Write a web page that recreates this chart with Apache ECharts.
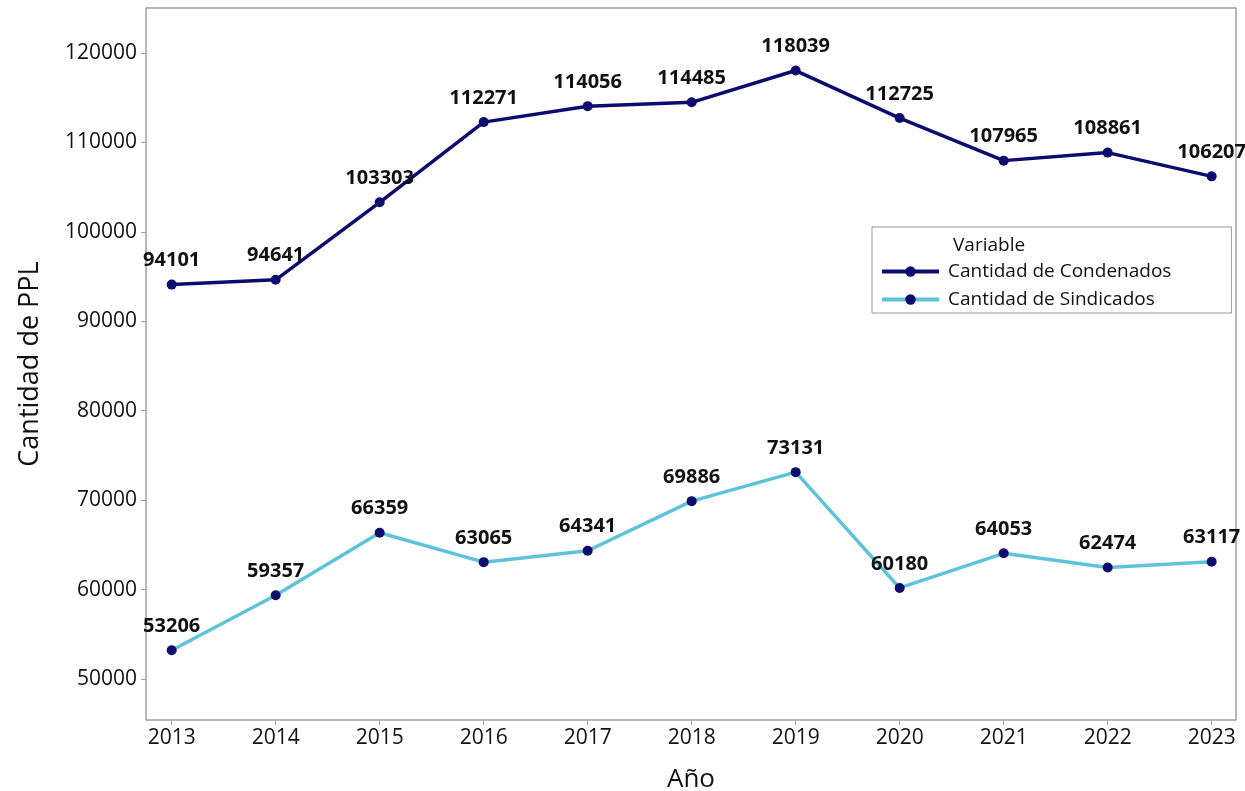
<!DOCTYPE html>
<html>
<head>
<meta charset="utf-8">
<script src="https://cdn.jsdelivr.net/npm/echarts@6/dist/echarts.min.js"></script>
<style>
  html, body { margin: 0; padding: 0; background: #fff; }
  #chart { width: 1245px; height: 791px; }
</style>
</head>
<body>
<div id="chart"></div>
<script>
const years = [2013, 2014, 2015, 2016, 2017, 2018, 2019, 2020, 2021, 2022, 2023]
const condenados = [94101, 94641, 103303, 112271, 114056, 114485, 118039, 112725, 107965, 108861, 106207]
const sindicados = [53206, 59357, 66359, 63065, 64341, 69886, 73131, 60180, 64053, 62474, 63117]
const yTicks = [50000, 60000, 70000, 80000, 90000, 100000, 110000, 120000]

const FONT = '"Open Sans", "Noto Sans", sans-serif'
const BOLD = '"Noto Sans", "Open Sans", sans-serif'
const NAVY = '#0c0c6e'
const CYAN = '#5ec3d9'

function pairs(vals) {
  return years.map((y, i) => [y, vals[i]])
}

const myChart = echarts.init(document.getElementById('chart'))

const labelStyle = {
  show: true,
  position: 'top',
  distance: 9,
  color: '#111',
  fontFamily: BOLD,
  fontWeight: 'bold',
  fontSize: 20,
  formatter: p => p.data[1]
}

const option = {
  backgroundColor: '#fff',
  animation: false,
  grid: {
    left: 146, right: 9, top: 8, bottom: 71,
    outerBoundsMode: 'none',
    containLabel: false,
    show: true,
    borderColor: '#a0a0a0',
    borderWidth: 1.5,
    backgroundColor: '#fff'
  },
  title: {
    text: 'Variable',
    left: 948, top: 231,
    textStyle: { fontFamily: FONT, fontSize: 19, fontWeight: 'normal', color: '#111' }
  },
  legend: {
    orient: 'vertical',
    left: 872, top: 227,
    padding: [35, 60, 4, 8],
    itemGap: 9,
    itemWidth: 57,
    itemHeight: 13,
    borderColor: '#999',
    borderWidth: 1,
    lineStyle: { width: 4 },
    textStyle: { fontFamily: FONT, fontSize: 19, color: '#111', padding: [0, 0, 0, 4] },
    data: ['Cantidad de Condenados', 'Cantidad de Sindicados']
  },
  xAxis: {
    type: 'value',
    min: 2012.753,
    max: 2023.234,
    name: 'Año',
    nameLocation: 'middle',
    nameGap: 47,
    nameTextStyle: { fontFamily: FONT, fontSize: 26, color: '#111' },
    axisLine: { show: false },
    axisTick: { show: true, inside: false, length: 5, customValues: years, lineStyle: { color: '#a0a0a0' } },
    axisLabel: {
      customValues: years,
      margin: 8,
      fontFamily: FONT, fontSize: 21, color: '#111',
      formatter: v => String(Math.round(v))
    },
    splitLine: { show: false }
  },
  yAxis: {
    type: 'value',
    min: 45415,
    max: 125032,
    name: 'Cantidad de PPL',
    nameLocation: 'middle',
    nameGap: 102,
    nameTextStyle: { fontFamily: FONT, fontSize: 27, color: '#111' },
    axisLine: { show: false },
    axisTick: { show: true, inside: false, length: 5, customValues: yTicks, lineStyle: { color: '#a0a0a0' } },
    axisLabel: {
      customValues: yTicks,
      margin: 9,
      fontFamily: FONT, fontSize: 21, color: '#111',
      formatter: v => String(v)
    },
    splitLine: { show: false }
  },
  series: [
    {
      name: 'Cantidad de Condenados',
      type: 'line',
      data: pairs(condenados),
      symbol: 'circle',
      symbolSize: 10,
      lineStyle: { color: NAVY, width: 3.5 },
      itemStyle: { color: NAVY },
      label: labelStyle
    },
    {
      name: 'Cantidad de Sindicados',
      type: 'line',
      data: pairs(sindicados),
      symbol: 'circle',
      symbolSize: 10,
      lineStyle: { color: CYAN, width: 3.5 },
      itemStyle: { color: NAVY },
      label: labelStyle
    }
  ]
}

myChart.setOption(option)
window.addEventListener('resize', myChart.resize)
</script>
</body>
</html>
